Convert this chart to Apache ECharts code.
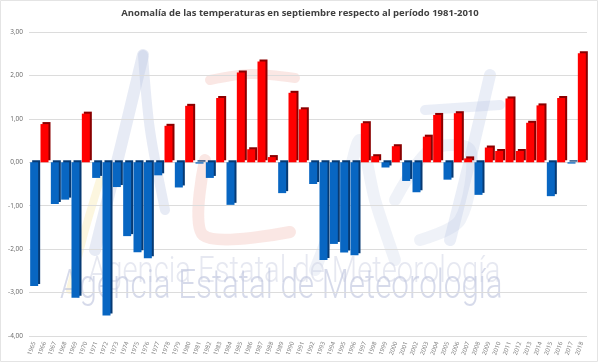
<!DOCTYPE html>
<html>
<head>
<meta charset="utf-8">
<script src="https://cdn.jsdelivr.net/npm/echarts@6/dist/echarts.min.js"></script>
<style>
html,body{margin:0;padding:0;background:#fff;}
#chart{width:600px;height:363px;}
</style>
</head>
<body>
<div id="chart"></div>
<script>
var titleText = 'Anomalía de las temperaturas en septiembre respecto al período 1981-2010';
var years = ['1965','1966','1967','1968','1969','1970','1971','1972','1973','1974','1975','1976','1977','1978','1979','1980','1981','1982','1983','1984','1985','1986','1987','1988','1989','1990','1991','1992','1993','1994','1995','1996','1997','1998','1999','2000','2001','2002','2003','2004','2005','2006','2007','2008','2009','2010','2011','2012','2013','2014','2015','2016','2017','2018'];
var anomalies = [-2.85,0.88,-0.96,-0.86,-3.12,1.12,-0.36,-3.53,-0.57,-1.70,-2.07,-2.21,-0.30,0.84,-0.58,1.30,-0.03,-0.36,1.48,-0.98,2.07,0.30,2.32,0.12,-0.71,1.60,1.22,-0.50,-2.25,-1.88,-2.08,-2.14,0.90,0.14,-0.12,0.37,-0.43,-0.69,0.59,1.09,-0.40,1.13,0.09,-0.75,0.34,0.26,1.47,0.26,0.91,1.31,-0.78,1.48,-0.03,2.51];
var yTicks = [-4,-3,-2,-1,0,1,2,3];
var watermarkText = 'Agencia Estatal de Meteorología';

var chart = echarts.init(document.getElementById('chart'));
var barData = anomalies.map(function(v){
  var pos = v >= 0;
  return {
    value: v,
    itemStyle: {
      color: pos ? '#ff0000' : '#0866c2',
      shadowColor: pos ? '#8a0000' : '#063a74',
      shadowOffsetX: 2,
      shadowOffsetY: -2,
      shadowBlur: 0
    }
  };
});
function stroke(points, color, width){
  return {type: 'polyline', z: -15, shape: {points: points, smooth: 0.3},
    style: {stroke: color, lineWidth: width, fill: 'none', lineCap: 'round', lineJoin: 'round'}};
}
chart.setOption({
  animation: false,
  backgroundColor: '#ffffff',
  title: {
    text: titleText,
    left: 'center',
    top: 3,
    textStyle: {fontFamily: 'Open Sans', fontSize: 9.5, fontWeight: 'bold', color: '#404040'}
  },
  graphic: [
    {type: 'rect', shape: {x: 0.5, y: 0.5, width: 597, height: 361}, style: {fill: 'none', stroke: '#e4e4e4', lineWidth: 1}, z: -20},
    stroke([[95,250],[120,150],[143,55]], 'rgba(175,190,222,0.30)', 12),
    stroke([[143,55],[150,130],[165,210]], 'rgba(175,190,222,0.30)', 10),
    stroke([[70,290],[85,230],[100,180]], 'rgba(245,225,150,0.30)', 8),
    stroke([[210,80],[250,74],[295,78]], 'rgba(240,175,165,0.30)', 10),
    stroke([[205,160],[203,235],[290,232]], 'rgba(240,175,165,0.30)', 12),
    stroke([[315,270],[345,190],[360,140],[375,200],[395,260]], 'rgba(180,195,225,0.22)', 12),
    stroke([[395,200],[430,150],[470,150],[460,220],[420,240]], 'rgba(180,195,225,0.22)', 12),
    stroke([[490,75],[470,160],[450,240]], 'rgba(180,195,225,0.28)', 12),
    stroke([[425,110],[500,105]], 'rgba(180,195,225,0.28)', 10),
    {type: 'text', left: 88, top: 254, z: -10, scaleX: 0.79, originX: 88, style: {text: watermarkText, fontFamily: 'Roboto', fontSize: 37, fontWeight: 300, fill: 'rgba(205,210,228,0.5)'}},
    {type: 'text', left: 60, top: 267, z: -10, scaleX: 0.765, originX: 60, style: {text: watermarkText, fontFamily: 'Roboto', fontSize: 41, fontWeight: 300, fill: 'rgba(192,198,222,0.65)'}}
  ],
  grid: {left: 29, right: 13, top: 32, height: 304, containLabel: false},
  xAxis: {
    type: 'category',
    data: years,
    position: 'bottom',
    axisLine: {show: false},
    axisTick: {show: false},
    axisLabel: {rotate: 70, fontSize: 6, color: '#777', interval: 0, margin: 6, fontFamily: 'Open Sans'}
  },
  yAxis: {
    type: 'value',
    min: -4, max: 3, interval: 1,
    axisLine: {show: false},
    axisTick: {show: false},
    splitLine: {lineStyle: {color: '#dcdcdc', width: 1}},
    axisLabel: {fontSize: 6.5, color: '#666', margin: 6, fontFamily: 'Open Sans',
      formatter: function(v){ return v.toFixed(2).replace('.', ','); }}
  },
  series: [{
    type: 'bar',
    data: barData,
    barWidth: 8,
    z: 5
  }]
});
</script>
</body>
</html>
